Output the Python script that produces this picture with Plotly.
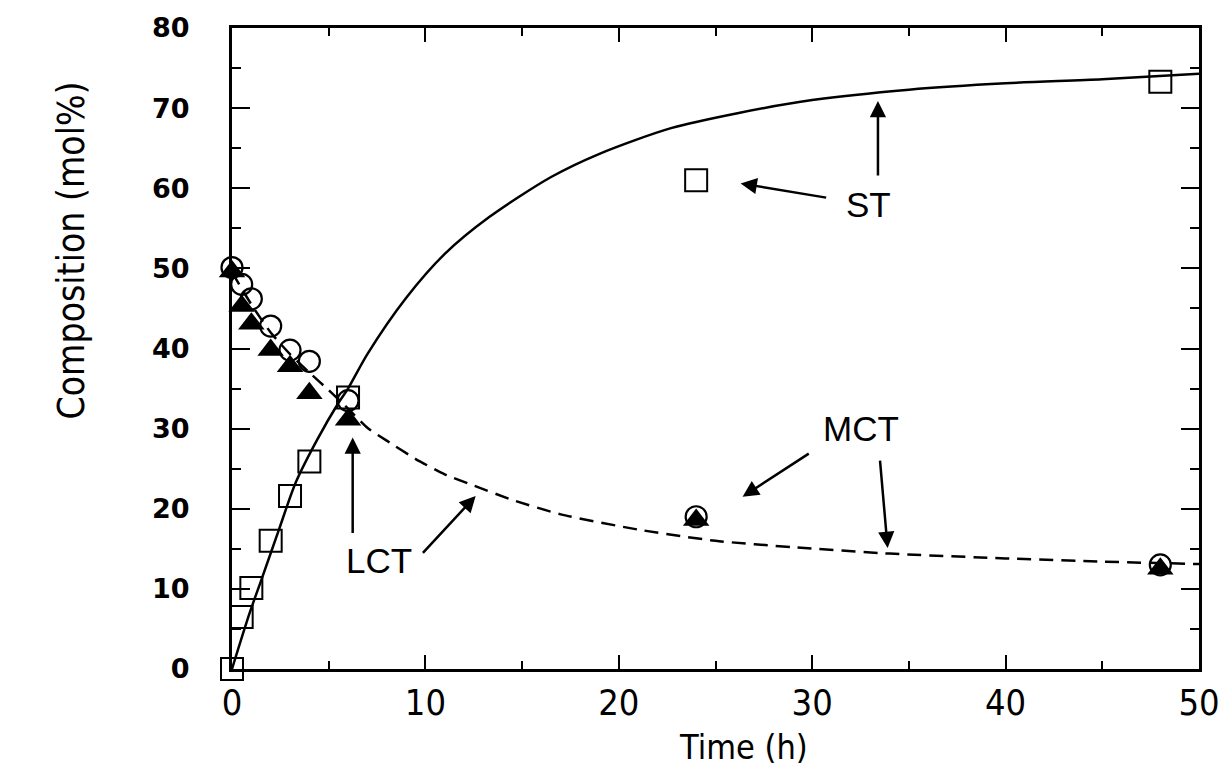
import plotly.graph_objects as go

# ---- data ----
time_pts = [0, 0.5, 1, 2, 3, 4, 6, 24, 48]
st_pts = [0, 6.5, 10.1, 16.0, 21.6, 25.9, 33.9, 61.0, 73.3]
circle_pts = [50.1, 48.0, 46.2, 42.8, 39.8, 38.4, 33.5, 19.0, 13.0]
triangle_pts = [49.6, 45.3, 43.1, 39.8, 37.8, 34.4, 31.1, 18.6, 12.5]

st_curve_t = [0, 0.9, 1.5, 2.4, 3.3, 4.4, 5.5, 6, 7, 9, 11, 13.3, 16.5, 19, 22.7, 26.2, 30, 35, 40, 45, 50]
st_curve_y = [0, 6.9, 11, 17.2, 23.3, 28.6, 33.2, 35.0, 39.3, 46.3, 51.8, 56.4, 61.4, 64.3, 67.5, 69.4, 71, 72.3, 73.1, 73.6, 74.3]

ct_curve_t = [0, 1, 2, 3, 4, 5, 6, 7, 8, 9.5, 11, 12.5, 14.5, 17, 21, 25, 29, 34, 40, 45, 50]
ct_curve_y = [49.5, 45.5, 42, 39.3, 37, 34.8, 32.5, 30.1, 28.5, 26.2, 24.3, 22.9, 21.1, 19.3, 17.4, 16.0, 15.2, 14.4, 13.8, 13.4, 13.1]

x_ticks = [0, 10, 20, 30, 40, 50]
y_ticks = [0, 10, 20, 30, 40, 50, 60, 70, 80]

NARROW = "Liberation Sans Narrow, DejaVu Sans Condensed, Arial Narrow, sans-serif"

fig = go.Figure()
fig.add_trace(go.Scatter(x=st_curve_t, y=st_curve_y, mode="lines",
                         line=dict(color="black", width=2.5, shape="spline", smoothing=0.8),
                         showlegend=False, cliponaxis=False))
fig.add_trace(go.Scatter(x=ct_curve_t, y=ct_curve_y, mode="lines",
                         line=dict(color="black", width=2.5, dash="14px,8px", shape="spline", smoothing=0.6),
                         showlegend=False))
fig.add_trace(go.Scatter(x=time_pts, y=st_pts, mode="markers",
                         marker=dict(symbol="square-open", size=22, color="black", line=dict(width=2)),
                         showlegend=False, cliponaxis=False))
fig.add_trace(go.Scatter(x=time_pts, y=circle_pts, mode="markers",
                         marker=dict(symbol="circle-open", size=21, color="black", line=dict(width=2.2)),
                         showlegend=False, cliponaxis=False))
fig.add_trace(go.Scatter(x=time_pts, y=triangle_pts, mode="markers",
                         marker=dict(symbol="triangle-up", size=23, color="black"),
                         showlegend=False, cliponaxis=False))

arrow = dict(showarrow=True, arrowhead=2, arrowsize=1.3, arrowwidth=2.5, arrowcolor="black",
             xref="x", yref="y", axref="x", ayref="y", text="")
annots = [
    # ST
    dict(x=26.3, y=60.6, ax=30.8, ay=58.8, **arrow),
    dict(x=33.4, y=70.9, ax=33.4, ay=61.4, **arrow),
    # MCT
    dict(x=26.4, y=21.5, ax=29.9, ay=27.0, **arrow),
    dict(x=33.9, y=15.1, ax=33.5, ay=26.2, **arrow),
    # LCT
    dict(x=6.24, y=28.9, ax=6.24, ay=16.8, **arrow),
    dict(x=12.6, y=21.6, ax=9.8, ay=14.3, **arrow),
]
labels = [("ST", 32.9, 58.0), ("MCT", 32.5, 30.0), ("LCT", 7.6, 13.5)]
for txt, lx, ly in labels:
    annots.append(dict(x=lx, y=ly, xref="x", yref="y", text=txt, showarrow=False,
                       font=dict(family="Liberation Sans, Arial, sans-serif", size=35, color="black")))
annots.append(dict(x=-0.19, y=52.2, xref="paper", yref="y", text="Composition (mol%)",
                   textangle=-90, showarrow=False,
                   font=dict(family=NARROW, size=37, color="black")))
annots.append(dict(x=(745 - 232) / 969, y=-0.122, xref="paper", yref="paper",
                   text="Time (h)", showarrow=False, yanchor="middle",
                   font=dict(family=NARROW, size=34, color="black")))

fig.update_layout(
    width=1232, height=774,
    margin=dict(l=232, r=31, t=21, b=105),
    paper_bgcolor="white", plot_bgcolor="white",
    annotations=annots,
    xaxis=dict(range=[0, 50], tickvals=x_ticks, ticktext=[str(v) for v in x_ticks],
               ticks="inside", ticklen=14, tickwidth=2, tickcolor="black",
               showline=True, linewidth=3, linecolor="black", mirror="ticks",
               showgrid=False, zeroline=False,
               minor=dict(dtick=5, ticks="inside", ticklen=8, tickwidth=2, tickcolor="black", showgrid=False),
               tickfont=dict(family=NARROW, size=36, color="black")),
    yaxis=dict(range=[0, 80], tickvals=y_ticks, ticktext=[str(v) for v in y_ticks],
               ticks="inside", ticklen=18, tickwidth=2, tickcolor="black",
               showline=True, linewidth=3, linecolor="black", mirror="ticks",
               showgrid=False, zeroline=False, ticklabelstandoff=34,
               minor=dict(dtick=5, ticks="inside", ticklen=9, tickwidth=2, tickcolor="black", showgrid=False),
               tickfont=dict(family="DejaVu Sans", size=27, color="black", weight="bold")),
)

fig.write_html("out.html")
